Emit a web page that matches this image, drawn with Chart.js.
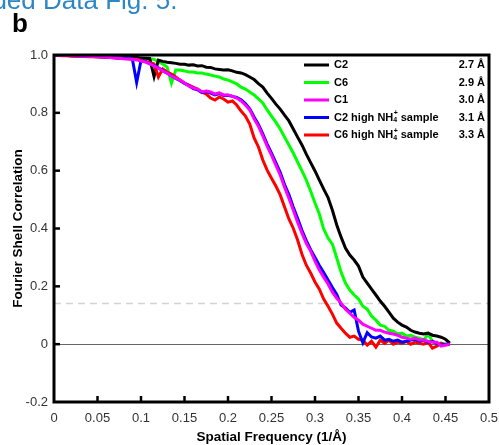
<!DOCTYPE html>
<html>
<head>
<meta charset="utf-8">
<script src="https://cdn.jsdelivr.net/npm/chart.js@4/dist/chart.umd.min.js"></script>
<style>
  html, body { margin: 0; padding: 0; background: #fff; }
</style>
</head>
<body>
<canvas id="chart" width="499" height="445"></canvas>
<script>
'use strict';

// spatial frequency (1/Å)
var freq = [
  0, 0.005, 0.01, 0.015, 0.02, 0.025, 0.03, 0.035, 0.04, 0.045,
  0.05, 0.055, 0.06, 0.065, 0.07, 0.075, 0.08, 0.085, 0.09, 0.095,
  0.1, 0.105, 0.11, 0.115, 0.12, 0.125, 0.13, 0.135, 0.14, 0.145,
  0.15, 0.155, 0.16, 0.165, 0.17, 0.175, 0.18, 0.185, 0.19, 0.195,
  0.2, 0.205, 0.21, 0.215, 0.22, 0.225, 0.23, 0.235, 0.24, 0.245,
  0.25, 0.255, 0.26, 0.265, 0.27, 0.275, 0.28, 0.285, 0.29, 0.295,
  0.3, 0.305, 0.31, 0.315, 0.32, 0.325, 0.33, 0.335, 0.34, 0.345,
  0.35, 0.355, 0.36, 0.365, 0.37, 0.375, 0.38, 0.385, 0.39, 0.395,
  0.4, 0.405, 0.41, 0.415, 0.42, 0.425, 0.43, 0.435, 0.44, 0.445,
  0.45, 0.455];

var fscC2 = [
  1.000, 0.999, 0.999, 0.998, 0.998, 0.998, 0.997, 0.997, 0.997, 0.996,
  0.996, 0.995, 0.995, 0.994, 0.994, 0.993, 0.993, 0.992, 0.991, 0.991,
  0.990, 0.989, 0.988, 0.925, 0.982, 0.978, 0.975, 0.973, 0.971, 0.968,
  0.968, 0.965, 0.966, 0.962, 0.963, 0.958, 0.957, 0.952, 0.950, 0.948,
  0.949, 0.945, 0.940, 0.938, 0.932, 0.924, 0.915, 0.901, 0.889, 0.868,
  0.850, 0.830, 0.813, 0.792, 0.772, 0.744, 0.716, 0.689, 0.657, 0.628,
  0.599, 0.567, 0.536, 0.507, 0.463, 0.412, 0.370, 0.332, 0.308, 0.291,
  0.270, 0.232, 0.211, 0.190, 0.170, 0.149, 0.131, 0.111, 0.090, 0.076,
  0.066, 0.059, 0.048, 0.042, 0.038, 0.035, 0.038, 0.031, 0.028, 0.024,
  0.017, 0.004];

var fscC6 = [
  1.000, 0.999, 0.998, 0.998, 0.997, 0.997, 0.996, 0.996, 0.995, 0.995,
  0.994, 0.994, 0.993, 0.993, 0.992, 0.992, 0.991, 0.990, 0.990, 0.989,
  0.988, 0.987, 0.986, 0.985, 0.976, 0.969, 0.958, 0.903, 0.948, 0.948,
  0.945, 0.941, 0.941, 0.938, 0.938, 0.934, 0.931, 0.927, 0.924, 0.917,
  0.913, 0.907, 0.900, 0.889, 0.882, 0.872, 0.862, 0.848, 0.834, 0.810,
  0.789, 0.768, 0.744, 0.716, 0.689, 0.661, 0.630, 0.599, 0.567, 0.529,
  0.488, 0.450, 0.398, 0.367, 0.346, 0.298, 0.249, 0.211, 0.187, 0.170,
  0.156, 0.131, 0.121, 0.097, 0.083, 0.066, 0.062, 0.048, 0.045, 0.035,
  0.038, 0.028, 0.031, 0.024, 0.021, 0.014, 0.035, 0.010, 0.003, 0.003,
  0.000, 0.000];

var fscC1 = [
  1.000, 0.999, 0.998, 0.998, 0.997, 0.997, 0.996, 0.996, 0.995, 0.995,
  0.994, 0.993, 0.992, 0.991, 0.990, 0.989, 0.987, 0.986, 0.985, 0.983,
  0.979, 0.976, 0.969, 0.962, 0.955, 0.945, 0.938, 0.927, 0.920, 0.913,
  0.903, 0.893, 0.886, 0.882, 0.872, 0.875, 0.872, 0.865, 0.869, 0.862,
  0.862, 0.858, 0.851, 0.841, 0.827, 0.810, 0.779, 0.754, 0.720, 0.685,
  0.654, 0.619, 0.585, 0.543, 0.505, 0.464, 0.422, 0.384, 0.349, 0.322,
  0.287, 0.256, 0.232, 0.208, 0.180, 0.159, 0.142, 0.121, 0.107, 0.093,
  0.083, 0.069, 0.062, 0.055, 0.048, 0.048, 0.042, 0.038, 0.035, 0.031,
  0.024, 0.021, 0.017, 0.021, 0.014, 0.014, 0.010, 0.007, 0.007, -0.007,
  -0.003, 0.000];

var fscC2High = [
  1.000, 0.999, 0.999, 0.998, 0.998, 0.997, 0.997, 0.996, 0.996, 0.995,
  0.995, 0.994, 0.993, 0.992, 0.991, 0.990, 0.989, 0.988, 0.987, 0.905,
  0.981, 0.977, 0.970, 0.963, 0.956, 0.946, 0.937, 0.928, 0.919, 0.911,
  0.902, 0.894, 0.884, 0.880, 0.870, 0.874, 0.868, 0.862, 0.867, 0.860,
  0.861, 0.857, 0.853, 0.845, 0.832, 0.814, 0.786, 0.760, 0.727, 0.692,
  0.661, 0.628, 0.594, 0.552, 0.517, 0.474, 0.435, 0.394, 0.358, 0.327,
  0.300, 0.272, 0.248, 0.222, 0.196, 0.172, 0.135, 0.125, 0.110, 0.118,
  0.045, 0.005, 0.040, 0.025, 0.021, 0.028, 0.014, 0.017, 0.010, 0.014,
  0.007, 0.010, 0.014, 0.017, 0.010, 0.014, 0.007, 0.010, 0.003, -0.003,
  0.000, 0.000];

var fscC6High = [
  1.000, 0.998, 0.997, 0.997, 0.996, 0.996, 0.995, 0.995, 0.994, 0.994,
  0.993, 0.992, 0.991, 0.991, 0.990, 0.989, 0.988, 0.987, 0.986, 0.985,
  0.982, 0.978, 0.974, 0.969, 0.924, 0.952, 0.941, 0.934, 0.924, 0.913,
  0.903, 0.896, 0.889, 0.882, 0.872, 0.865, 0.851, 0.844, 0.855, 0.848,
  0.837, 0.841, 0.827, 0.806, 0.789, 0.761, 0.713, 0.682, 0.637, 0.602,
  0.574, 0.547, 0.516, 0.474, 0.433, 0.401, 0.360, 0.311, 0.273, 0.246,
  0.215, 0.190, 0.156, 0.131, 0.104, 0.073, 0.055, 0.038, 0.024, 0.028,
  0.017, 0.014, -0.003, 0.010, -0.010, 0.014, 0.003, 0.014, 0.000, 0.007,
  0.003, 0.010, 0.000, 0.007, 0.003, 0.000, 0.007, -0.014, -0.007, 0.003,
  -0.003, 0.000];

var seriesNames = ['C2', 'C6', 'C1', 'C2 high NH4+ sample', 'C6 high NH4+ sample'];
var resolutions = ['2.7 Å', '2.9 Å', '3.0 Å', '3.1 Å', '3.3 Å'];
var allSeries = [fscC2, fscC6, fscC1, fscC2High, fscC6High];

var xTicks = [0, 0.05, 0.1, 0.15, 0.2, 0.25, 0.3, 0.35, 0.4, 0.45, 0.5];
var yTicks = [-0.2, 0, 0.2, 0.4, 0.6, 0.8, 1.0];
var threshold = 0.143;

var colors = ['#000000', '#00ff00', '#ff00ff', '#0000ff', '#ff0000'];
var drawOrder = [3, 4, 0, 1, 2];

var font = 'Arial, "Liberation Sans", sans-serif';

var datasets = [];
for (var i = 0; i < allSeries.length; i++) {
  var pts = [];
  for (var j = 0; j < freq.length; j++) {
    pts.push({x: freq[j], y: allSeries[i][j]});
  }
  datasets.push({
    label: seriesNames[i],
    data: pts,
    borderColor: colors[i],
    backgroundColor: colors[i],
    borderWidth: 3,
    pointRadius: 0,
    tension: 0,
    fill: false,
    order: drawOrder[i]
  });
}

function fmt(v) {
  if (Math.abs(v) < 1e-9) return '0';
  return String(Math.round(v * 100) / 100);
}

// zero line, 0.143 line, frame, inward ticks, legend and panel labels
var decor = {
  id: 'decor',
  beforeDatasetsDraw: function (chart) {
    var c = chart.ctx, a = chart.chartArea, ys = chart.scales.y;
    c.save();
    var yt = Math.round(ys.getPixelForValue(threshold)) + 0.5;
    c.strokeStyle = '#d4d4d4';
    c.lineWidth = 1.5;
    c.setLineDash([7, 5]);
    c.beginPath(); c.moveTo(a.left, yt); c.lineTo(a.right, yt); c.stroke();
    c.setLineDash([]);
    var y0 = Math.round(ys.getPixelForValue(0)) + 0.5;
    c.strokeStyle = '#666';
    c.lineWidth = 1;
    c.beginPath(); c.moveTo(a.left, y0); c.lineTo(a.right, y0); c.stroke();
    c.restore();
  },
  afterDraw: function (chart) {
    var c = chart.ctx, a = chart.chartArea;
    var xs = chart.scales.x, ys = chart.scales.y;
    c.save();
    c.strokeStyle = '#000';
    c.lineWidth = 3;
    c.strokeRect(a.left, a.top, a.right - a.left, a.bottom - a.top);

    c.lineWidth = 2.5;
    for (var k = 1; k < xTicks.length - 1; k++) {
      var px = xs.getPixelForValue(xTicks[k]);
      c.beginPath(); c.moveTo(px, a.bottom); c.lineTo(px, a.bottom - 6); c.stroke();
    }
    for (var m = 1; m < yTicks.length - 1; m++) {
      var py = ys.getPixelForValue(yTicks[m]);
      c.beginPath(); c.moveTo(a.left, py); c.lineTo(a.left + 6, py); c.stroke();
    }

    // legend
    var rowY = 65, rowGap = 17.5;
    for (var i = 0; i < seriesNames.length; i++) {
      var y = rowY + i * rowGap;
      c.strokeStyle = colors[i];
      c.lineWidth = 3;
      c.beginPath(); c.moveTo(304, y); c.lineTo(329, y); c.stroke();
      c.fillStyle = '#000';
      c.textBaseline = 'middle';
      c.textAlign = 'left';
      c.font = 'bold 11px ' + font;
      var name = seriesNames[i];
      var cut = name.indexOf('NH4+');
      if (cut < 0) {
        c.fillText(name, 334, y);
      } else {
        var head = name.slice(0, cut + 2);
        var tail = name.slice(cut + 4);
        var x = 334;
        c.fillText(head, x, y);
        x += c.measureText(head).width;
        c.font = 'bold 7px ' + font;
        c.fillText('4', x, y + 3);
        c.fillText('+', x + 0.5, y - 4);
        x += c.measureText('4').width + 0.5;
        c.font = 'bold 11px ' + font;
        c.fillText(tail, x, y);
      }
      c.textAlign = 'right';
      c.fillText(resolutions[i], 485, y);
    }

    // panel header
    c.textAlign = 'left';
    c.textBaseline = 'alphabetic';
    c.fillStyle = '#2f86c6';
    c.font = '26px ' + font;
    var pre = 'Extended ';
    c.fillText(pre + 'Data Fig. 5.', 43 - c.measureText(pre).width, 9);
    c.fillStyle = '#000';
    c.font = 'bold 26px ' + font;
    c.fillText('b', 12, 32);
    c.restore();
  }
};

var ctx = document.getElementById('chart').getContext('2d');

var chart = new Chart(ctx, {
  type: 'line',
  data: { datasets: datasets },
  options: {
    responsive: false,
    animation: false,
    layout: { padding: { left: 0, top: 55, right: 10, bottom: 0 } },
    plugins: {
      legend: { display: false },
      tooltip: { enabled: false }
    },
    scales: {
      x: {
        type: 'linear',
        min: 0,
        max: 0.5,
        afterBuildTicks: function (scale) {
          scale.ticks = xTicks.map(function (v) { return {value: v}; });
        },
        afterFit: function (scale) {
          scale.height = 43;
          scale.paddingLeft = 0;
          scale.paddingRight = 0;
        },
        grid: { display: false, drawTicks: false },
        border: { display: false },
        ticks: {
          autoSkip: false,
          maxRotation: 0,
          padding: 9,
          color: '#333',
          font: { family: font, size: 13 },
          callback: function (v) { return fmt(v); }
        },
        title: {
          display: true,
          text: 'Spatial Frequency (1/Å)',
          color: '#000',
          padding: { top: 0, bottom: 0 },
          font: { family: font, size: 13.5, weight: 'bold' }
        }
      },
      y: {
        type: 'linear',
        min: -0.2,
        max: 1.0,
        afterBuildTicks: function (scale) {
          scale.ticks = yTicks.map(function (v) { return {value: v}; });
        },
        afterFit: function (scale) {
          scale.width = 54;
          scale.paddingTop = 0;
          scale.paddingBottom = 0;
        },
        grid: { display: false, drawTicks: false },
        border: { display: false },
        ticks: {
          padding: 6,
          color: '#333',
          font: { family: font, size: 13 },
          callback: function (v) { return Math.abs(v) < 1e-9 ? '0' : v.toFixed(1); }
        },
        title: {
          display: true,
          text: 'Fourier Shell Correlation',
          color: '#000',
          padding: { top: 10, bottom: 0 },
          font: { family: font, size: 13.5, weight: 'bold' }
        }
      }
    }
  },
  plugins: [decor]
});
</script>
</body>
</html>
